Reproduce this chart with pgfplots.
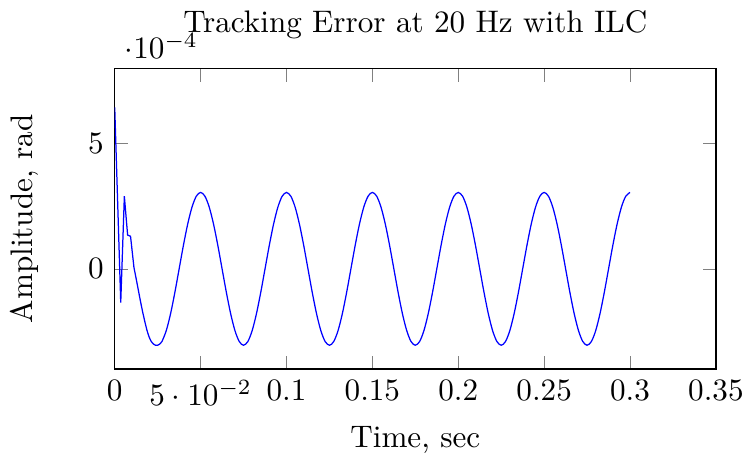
\documentclass[border=0pt]{standalone}
\usepackage{pgfplots}
\pgfplotsset{compat=1.18}
\begin{document}
\begin{tikzpicture}
\begin{axis}[
  scale only axis,
  width=193pt, height=96.5pt,
  xmin=0, xmax=0.35,
  ymin=-4e-4, ymax=8e-4,
  xtick={0,0.05,0.1,0.15,0.2,0.25,0.3,0.35},
  ytick={0,5e-4},
  title={Tracking Error at 20 Hz with ILC},
  xlabel={Time, sec},
  ylabel={Amplitude, rad},
  ylabel shift=9pt,
]
\addplot[blue, no markers] coordinates {
(0.0000,6.45e-4) (0.0035,-1.35e-4) (0.0056,2.90e-4) (0.0075,1.35e-4)
(0.0092,1.30e-4) (0.0100,0.80e-4) (0.0112,0.05e-4) (0.0125,-0.40e-4)
(0.01375,-0.85e-4) (0.0150,-1.30e-4) (0.01625,-1.72e-4) (0.0175,-2.10e-4)
(0.01875,-2.45e-4) (0.0200,-2.72e-4) (0.02125,-2.90e-4) (0.0225,-3.00e-4)
(0.02375,-3.05e-4) (0.0250,-3.05e-4) (0.02625,-3.00e-4)
(0.0275,-2.901e-4)
};
\addplot[blue, no markers, smooth] coordinates {
(0.0275,-2.901e-4) (0.0300,-2.468e-4) (0.0325,-1.793e-4) (0.0350,-0.943e-4)
(0.0375,0) (0.0400,0.943e-4) (0.0425,1.793e-4) (0.0450,2.468e-4) (0.0475,2.901e-4)
(0.0500,3.050e-4) (0.0525,2.901e-4) (0.0550,2.468e-4) (0.0575,1.793e-4) (0.0600,0.943e-4)
(0.0625,0) (0.0650,-0.943e-4) (0.0675,-1.793e-4) (0.0700,-2.468e-4) (0.0725,-2.901e-4)
(0.0750,-3.050e-4) (0.0775,-2.901e-4) (0.0800,-2.468e-4) (0.0825,-1.793e-4) (0.0850,-0.943e-4)
(0.0875,0) (0.0900,0.943e-4) (0.0925,1.793e-4) (0.0950,2.468e-4) (0.0975,2.901e-4)
(0.1000,3.050e-4) (0.1025,2.901e-4) (0.1050,2.468e-4) (0.1075,1.793e-4) (0.1100,0.943e-4)
(0.1125,0) (0.1150,-0.943e-4) (0.1175,-1.793e-4) (0.1200,-2.468e-4) (0.1225,-2.901e-4)
(0.1250,-3.050e-4) (0.1275,-2.901e-4) (0.1300,-2.468e-4) (0.1325,-1.793e-4) (0.1350,-0.943e-4)
(0.1375,0) (0.1400,0.943e-4) (0.1425,1.793e-4) (0.1450,2.468e-4) (0.1475,2.901e-4)
(0.1500,3.050e-4) (0.1525,2.901e-4) (0.1550,2.468e-4) (0.1575,1.793e-4) (0.1600,0.943e-4)
(0.1625,0) (0.1650,-0.943e-4) (0.1675,-1.793e-4) (0.1700,-2.468e-4) (0.1725,-2.901e-4)
(0.1750,-3.050e-4) (0.1775,-2.901e-4) (0.1800,-2.468e-4) (0.1825,-1.793e-4) (0.1850,-0.943e-4)
(0.1875,0) (0.1900,0.943e-4) (0.1925,1.793e-4) (0.1950,2.468e-4) (0.1975,2.901e-4)
(0.2000,3.050e-4) (0.2025,2.901e-4) (0.2050,2.468e-4) (0.2075,1.793e-4) (0.2100,0.943e-4)
(0.2125,0) (0.2150,-0.943e-4) (0.2175,-1.793e-4) (0.2200,-2.468e-4) (0.2225,-2.901e-4)
(0.2250,-3.050e-4) (0.2275,-2.901e-4) (0.2300,-2.468e-4) (0.2325,-1.793e-4) (0.2350,-0.943e-4)
(0.2375,0) (0.2400,0.943e-4) (0.2425,1.793e-4) (0.2450,2.468e-4) (0.2475,2.901e-4)
(0.2500,3.050e-4) (0.2525,2.901e-4) (0.2550,2.468e-4) (0.2575,1.793e-4) (0.2600,0.943e-4)
(0.2625,0) (0.2650,-0.943e-4) (0.2675,-1.793e-4) (0.2700,-2.468e-4) (0.2725,-2.901e-4)
(0.2750,-3.050e-4) (0.2775,-2.901e-4) (0.2800,-2.468e-4) (0.2825,-1.793e-4) (0.2850,-0.943e-4)
(0.2875,0) (0.2900,0.943e-4) (0.2925,1.793e-4) (0.2950,2.468e-4) (0.2975,2.901e-4)
(0.3000,3.050e-4)
};
\end{axis}
\end{tikzpicture}
\end{document}
